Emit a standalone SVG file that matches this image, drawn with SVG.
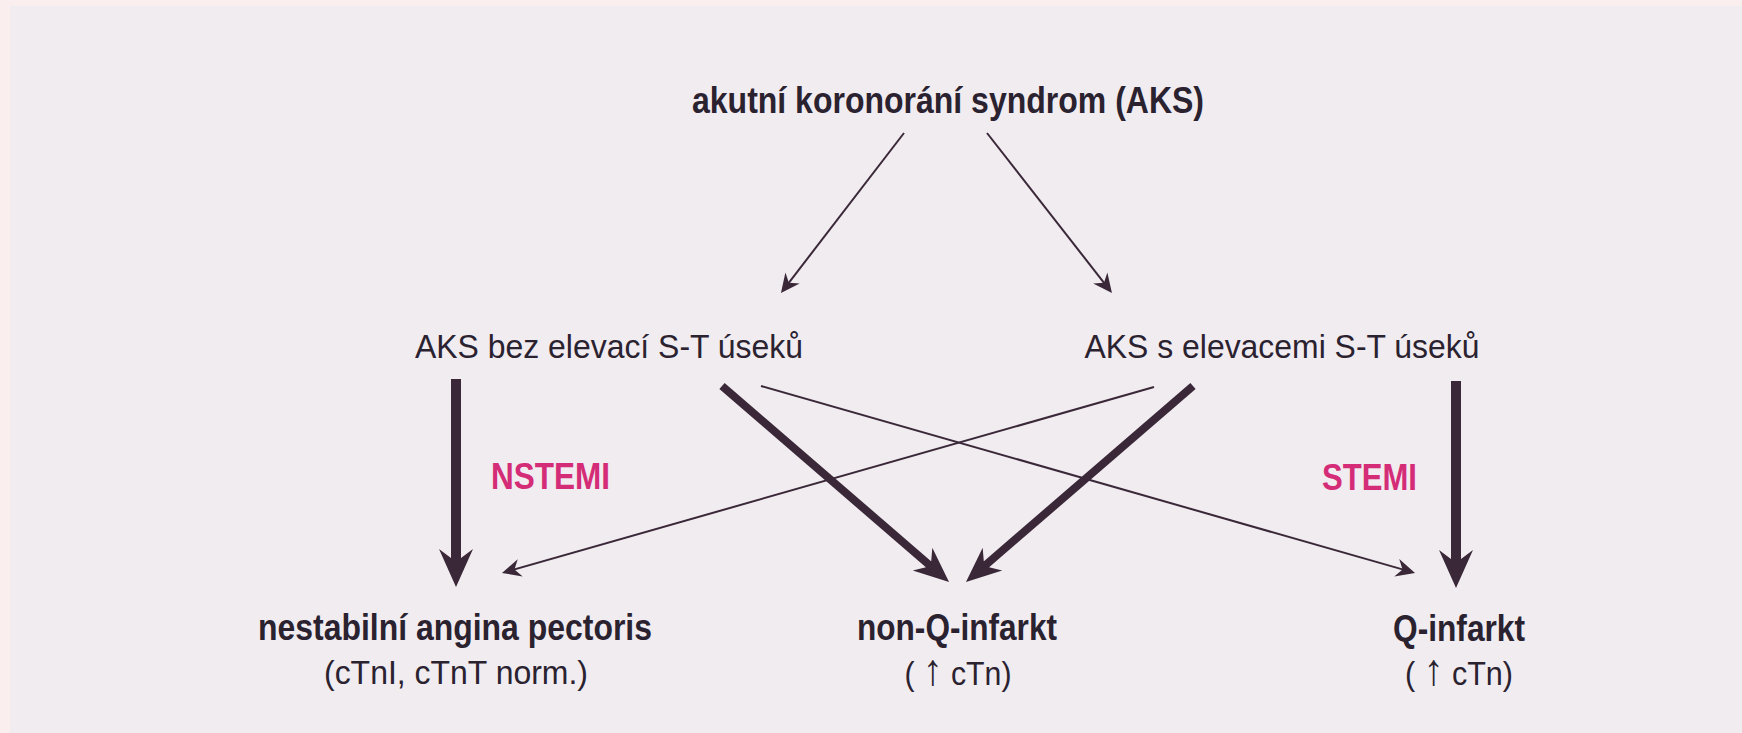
<svg xmlns="http://www.w3.org/2000/svg" width="1742" height="733" viewBox="0 0 1742 733">
<style>
.bg{fill:#f0ecf0}
.edge{fill:#fbeeee}
text{font-family:"Liberation Sans Narrow","Liberation Sans",Arial,sans-serif;fill:#2b2230;text-anchor:middle}
.b{font-weight:bold}
.lbl{font-weight:bold;fill:#d42c77}
.up{font-size:44px}
.thin{stroke:#3a2838;stroke-width:2;fill:none}
.thick{stroke:#3a2838;stroke-width:8;fill:none}
.vert{stroke:#3a2838;stroke-width:10;fill:none}
.head{fill:#3a2838}
</style>
<defs>
<marker id="ht" markerUnits="userSpaceOnUse" orient="auto" overflow="visible" markerWidth="1" markerHeight="1" refX="0" refY="0">
<path class="head" d="M4,0 L-15,-9 L-9,0 L-15,9 Z"/>
</marker>
<marker id="hm" markerUnits="userSpaceOnUse" orient="auto" overflow="visible" markerWidth="1" markerHeight="1" refX="0" refY="0">
<path class="head" d="M18,0 L-17,-15 L-9,-4 L-9,4 L-17,15 Z"/>
</marker>
<marker id="hb" markerUnits="userSpaceOnUse" orient="auto" overflow="visible" markerWidth="1" markerHeight="1" refX="0" refY="0">
<path class="head" d="M20,0 L-18,-17 L-9,-5 L-9,5 L-18,17 Z"/>
</marker>
</defs>
<rect class="bg" x="0" y="0" width="1742" height="733"/>
<rect class="edge" x="0" y="0" width="10" height="733"/>
<rect class="edge" x="0" y="0" width="1742" height="6"/>

<g id="connectors">
<line class="thin" x1="904" y1="133" x2="783.4" y2="289.8" marker-end="url(#ht)"/>
<line class="thin" x1="987" y1="133" x2="1109.5" y2="289.8" marker-end="url(#ht)"/>
<line class="vert" x1="456" y1="379" x2="456" y2="567" marker-end="url(#hb)"/>
<line class="vert" x1="1456" y1="381" x2="1456" y2="568" marker-end="url(#hb)"/>
<line class="thin" x1="1154" y1="387" x2="505.8" y2="571.9" marker-end="url(#ht)"/>
<line class="thin" x1="761" y1="386" x2="1411.2" y2="571.9" marker-end="url(#ht)"/>
<line class="thick" x1="722" y1="386" x2="935.4" y2="570.2" marker-end="url(#hm)"/>
<line class="thick" x1="1193" y1="386" x2="979.6" y2="570.2" marker-end="url(#hm)"/>
</g>

<g id="node-aks">
<text class="b" x="948" y="113" font-size="36" textLength="512" lengthAdjust="spacingAndGlyphs">akutní koronorání syndrom (AKS)</text>
</g>
<g id="node-bez">
<text x="609" y="358" font-size="33" textLength="388" lengthAdjust="spacingAndGlyphs">AKS bez elevací S-T úseků</text>
</g>
<g id="node-s">
<text x="1282" y="358" font-size="33" textLength="395" lengthAdjust="spacingAndGlyphs">AKS s elevacemi S-T úseků</text>
</g>
<g id="label-nstemi">
<text class="lbl" x="550.5" y="489" font-size="37" textLength="119" lengthAdjust="spacingAndGlyphs">NSTEMI</text>
</g>
<g id="label-stemi">
<text class="lbl" x="1369.5" y="490" font-size="37" textLength="95" lengthAdjust="spacingAndGlyphs">STEMI</text>
</g>
<g id="node-nap">
<text class="b" x="455" y="640" font-size="36" textLength="394" lengthAdjust="spacingAndGlyphs">nestabilní angina pectoris</text>
<text x="456" y="684" font-size="34" textLength="264" lengthAdjust="spacingAndGlyphs">(cTnI, cTnT norm.)</text>
</g>
<g id="node-nonq">
<text class="b" x="957" y="640" font-size="36" textLength="200" lengthAdjust="spacingAndGlyphs">non-Q-infarkt</text>
<text x="958" y="685" font-size="34" textLength="107" lengthAdjust="spacingAndGlyphs">( <tspan class="up">↑</tspan> cTn)</text>
</g>
<g id="node-q">
<text class="b" x="1459" y="641" font-size="36" textLength="132" lengthAdjust="spacingAndGlyphs">Q-infarkt</text>
<text x="1459" y="685" font-size="34" textLength="108" lengthAdjust="spacingAndGlyphs">( <tspan class="up">↑</tspan> cTn)</text>
</g>
</svg>
